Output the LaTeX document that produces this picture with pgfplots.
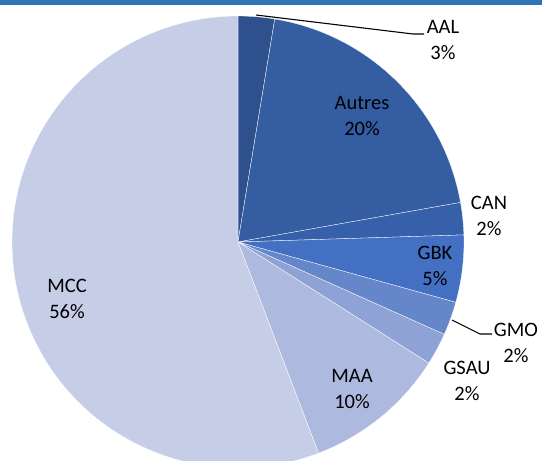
\documentclass[border=0pt]{standalone}
\usepackage{pgfplots}
\pgfplotsset{compat=1.18}
\usepackage{pgfplotstable}
\usepackage{fontspec}
\setmainfont{Carlito}

\definecolor{cAAL}{HTML}{2E508C}
\definecolor{cAutres}{HTML}{345DA2}
\definecolor{cCAN}{HTML}{3660AA}
\definecolor{cGBK}{HTML}{4370C2}
\definecolor{cGMO}{HTML}{6686CA}
\definecolor{cGSAU}{HTML}{8EA2D5}
\definecolor{cMAA}{HTML}{ADB9DE}
\definecolor{cMCC}{HTML}{C6CDE6}
\definecolor{topbar}{HTML}{2E75B6}

% share of each slice, clockwise from 12 o'clock
\pgfplotstableread{
name   value col
AAL    2.6   cAAL
Autres 19.6  cAutres
CAN    2.3   cCAN
GBK    4.8   cGBK
GMO    2.4   cGMO
GSAU   2.3   cGSAU
MAA    10.2  cMAA
MCC    55.8  cMCC
}\piedata

\begin{document}
\begin{tikzpicture}
\begin{axis}[
  x=1pt, y=1pt,
  xmin=0, xmax=542, ymin=0, ymax=461,
  hide axis, clip=false,
]
\coordinate (bl) at (axis cs:0,0);
\coordinate (tr) at (axis cs:542,461);
\def\cx{238}\def\cy{219}\def\R{226}
\def\startang{90}
\pgfplotsforeachungrouped \i in {0,...,7}{%
  \pgfplotstablegetelem{\i}{value}\of\piedata
  \let\val\pgfplotsretval
  \pgfplotstablegetelem{\i}{col}\of\piedata
  \let\colname\pgfplotsretval
  \pgfmathsetmacro\endang{\startang-3.6*\val}%
  \edef\cmd{\noexpand\fill[\colname,draw=white,line width=0.3pt]
    (axis cs:\cx,\cy) -- ++(\startang:\R pt)
    arc[start angle=\startang, end angle=\endang, radius=\R pt] -- cycle;}%
  \cmd
  \global\let\startang\endang
}
% top bar
\fill[topbar] (axis cs:0,456) rectangle (axis cs:542,461);
% leader lines
\draw[black,line width=1.1pt] (axis cs:256,446) -- (axis cs:413,427) -- (axis cs:424,427);
\draw[black,line width=1.1pt] (axis cs:452,141) -- (axis cs:480,127) -- (axis cs:492,127);
% labels
\begin{scope}[every node/.style={align=center,font=\fontsize{20.5}{26.5}\selectfont,text=black}]
\node at (axis cs:443,421) {AAL\\3\%};
\node at (axis cs:362,345) {Autres\\20\%};
\node at (axis cs:489,245) {CAN\\2\%};
\node at (axis cs:435,195) {GBK\\5\%};
\node at (axis cs:516,118) {GMO\\2\%};
\node at (axis cs:467,80) {GSAU\\2\%};
\node at (axis cs:352,72) {MAA\\10\%};
\node at (axis cs:67,162) {MCC\\56\%};
\end{scope}
\end{axis}
\pgfresetboundingbox
\useasboundingbox (bl) rectangle (tr);
\end{tikzpicture}
\end{document}
